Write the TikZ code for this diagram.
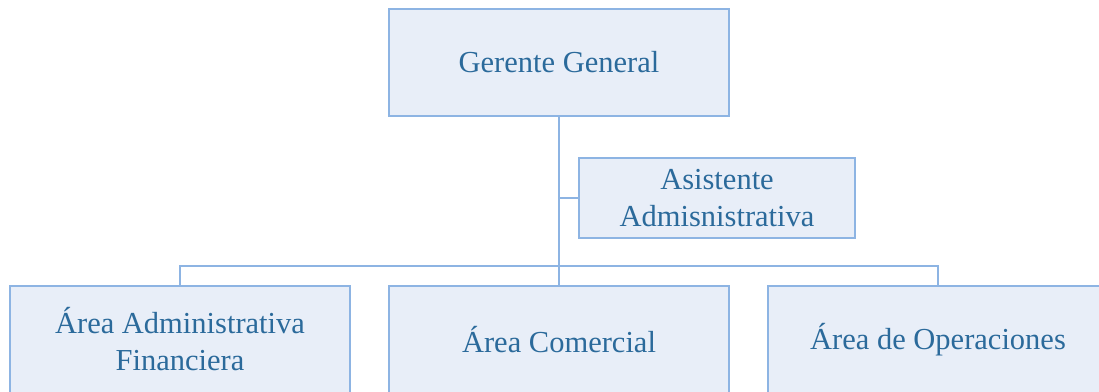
\documentclass[tikz,border=0pt]{standalone}
\usepackage{fontspec}
\setmainfont{Liberation Serif}
\definecolor{boxfill}{HTML}{E8EEF8}
\definecolor{boxline}{HTML}{8DB4E3}
\definecolor{boxtext}{HTML}{2B6A9B}
\begin{document}
\begin{tikzpicture}[x=1pt,y=-1pt,
  unit/.style={draw=boxline, fill=boxfill, line width=2pt, text=boxtext,
    inner sep=0pt, align=center, font=\fontsize{30.5}{37}\selectfont},
  wide/.style={unit, minimum width=340pt, minimum height=107pt},
  link/.style={draw=boxline, line width=2pt}]
\useasboundingbox (0,0) rectangle (1099,391);
\clip (0,0) rectangle (1099,391);

% top of the chart
\node[wide] (gg) at (559,62.5) {Gerente General};
\node[unit, minimum width=276pt, minimum height=80pt] (as) at (717,198)
  {Asistente\\Admisnistrativa};

% areas
\node[wide] (af) at (180,339.5) {Área Administrativa\\Financiera};
\node[wide] (ac) at (559,339.5) {Área Comercial};
\node[wide] (ao) at (938,339.5) {Área de Operaciones};

% connectors
\coordinate (bus) at (559,266);
\draw[link] (gg.south) -- (ac.north);
\draw[link] (as.west) -- (as.west -| gg.south);
\draw[link] (af.north) |- (bus) -| (ao.north);
\end{tikzpicture}
\end{document}
